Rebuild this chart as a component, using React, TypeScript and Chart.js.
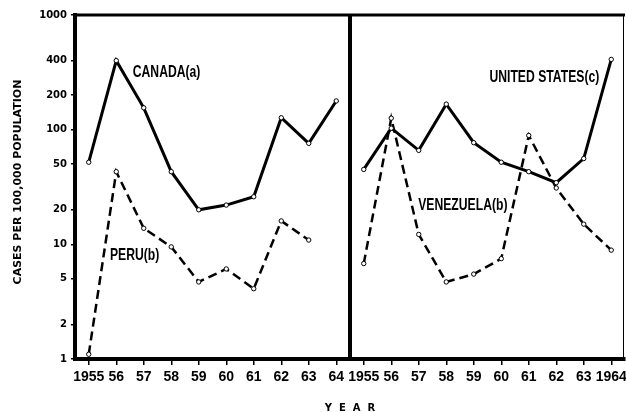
import React, { useEffect, useRef } from "react";
import { Chart, registerables } from "chart.js";

Chart.register(...registerables);

// ---- data ----
const leftYears = ["1955", "56", "57", "58", "59", "60", "61", "62", "63", "64"];
const rightYears = ["1955", "56", "57", "58", "59", "60", "61", "62", "63", "1964"];
const yTickValues = [1, 2, 5, 10, 20, 50, 100, 200, 400, 1000];

const canada = [52, 400, 155, 43, 20, 22, 26, 127, 76, 178];
const peru = [1.1, 43, 13.8, 9.5, 4.7, 6.1, 4.1, 16, 10.9, null];
const unitedStates = [45, 103, 66, 167, 77, 52, 43, 34.5, 56, 410];
const venezuela = [6.8, 126, 12.2, 4.7, 5.5, 7.5, 89, 31, 15, 8.9];

const seriesNames = ["CANADA(a)", "PERU(b)", "UNITED STATES(c)", "VENEZUELA(b)"];
const yTitle = "CASES PER 100,000 POPULATION";
const xTitle = "Y  E  A  R";

const SANS = '"Liberation Sans", Arial, sans-serif';
const WIDE = '"DejaVu Sans", "Liberation Sans", sans-serif';

// label anchors (category index, y value)
const labelAnchors = [
  { at: 1.6, value: 315 },
  { at: 0.77, value: 8.0 },
  { at: 14.57, value: 285 },
  { at: 11.98, value: 22 },
];

const empty = leftYears.map(() => null);

const frame = {
  id: "frame",
  afterDatasetsDraw(chart: any) {
    const { ctx, chartArea: a, scales } = chart;
    const x = scales.x;
    const y = scales.y;
    ctx.save();
    ctx.strokeStyle = "#000";
    // top border
    ctx.lineWidth = 3;
    ctx.beginPath();
    ctx.moveTo(a.left - 2, a.top);
    ctx.lineTo(a.right, a.top);
    ctx.stroke();
    // right border
    ctx.lineWidth = 1;
    ctx.beginPath();
    ctx.moveTo(a.right - 1.5, a.top);
    ctx.lineTo(a.right - 1.5, a.bottom);
    ctx.stroke();
    // divider between panels
    const xm = (x.getPixelForValue(9) + x.getPixelForValue(10)) / 2;
    ctx.lineWidth = 4;
    ctx.beginPath();
    ctx.moveTo(xm, a.top - 1);
    ctx.lineTo(xm, a.bottom + 2);
    ctx.stroke();
    // series labels (condensed bold)
    ctx.fillStyle = "#000";
    ctx.font = `bold 14.5px ${SANS}`;
    ctx.textBaseline = "middle";
    ctx.textAlign = "left";
    labelAnchors.forEach((l, i) => {
      ctx.save();
      ctx.translate(x.getPixelForValue(l.at), y.getPixelForValue(l.value));
      ctx.scale(0.84, 1.12);
      ctx.fillText(seriesNames[i], 0, 0);
      ctx.restore();
    });
    // y title
    ctx.save();
    ctx.translate(18, 182);
    ctx.rotate(-Math.PI / 2);
    ctx.font = `bold 11px ${WIDE}`;
    ctx.textAlign = "center";
    ctx.textBaseline = "middle";
    ctx.fillText(yTitle, 0, 0);
    ctx.restore();
    // x title
    ctx.font = `bold 10px ${WIDE}`;
    ctx.textAlign = "center";
    ctx.textBaseline = "middle";
    ctx.fillText(xTitle, xm, 408);
    ctx.restore();
  },
};

export default function App() {
  const ref = useRef<HTMLCanvasElement>(null);

  useEffect(() => {
    const labels = [...leftYears, ...rightYears];
    const solid = {
      borderColor: "#000",
      borderWidth: 3,
      pointRadius: 2.2,
      pointBackgroundColor: "#fff",
      pointBorderColor: "#000",
      pointBorderWidth: 1,
      tension: 0,
      spanGaps: false,
    };
    const dashed = { ...solid, borderWidth: 2.5, borderDash: [9, 5] };
    const chart = new Chart(ref.current!, {
      type: "line",
      data: {
        labels,
        datasets: [
          { label: seriesNames[0], data: [...canada, ...empty], ...solid },
          { label: seriesNames[1], data: [...peru, ...empty], ...dashed },
          { label: seriesNames[2], data: [...empty, ...unitedStates], ...solid },
          { label: seriesNames[3], data: [...empty, ...venezuela], ...dashed },
        ] as any,
      },
      options: {
        animation: false,
        responsive: false,
        devicePixelRatio: 1,
        layout: { autoPadding: false, padding: { top: 15, right: 1, left: 0, bottom: 0 } },
        plugins: { legend: { display: false }, tooltip: { enabled: false } },
        scales: {
          x: {
            type: "category",
            offset: true,
            afterFit: (s: any) => {
              s.height = 53;
              s.paddingLeft = 0;
              s.paddingRight = 0;
            },
            border: { display: true, color: "#000", width: 4 },
            grid: {
              display: true,
              drawOnChartArea: false,
              drawTicks: true,
              tickLength: 6,
              color: "#000",
              lineWidth: 1.5,
              offset: false,
            },
            ticks: {
              autoSkip: false,
              maxRotation: 0,
              minRotation: 0,
              padding: 4,
              color: "#000",
              font: { family: SANS, size: 14, weight: "bold" },
            },
          },
          y: {
            type: "logarithmic",
            min: 1,
            max: 1000,
            afterFit: (s: any) => {
              s.width = 75;
              s.paddingTop = 0;
              s.paddingBottom = 0;
            },
            afterBuildTicks: (s: any) => {
              s.ticks = yTickValues.map((v) => ({ value: v }));
            },
            border: { display: true, color: "#000", width: 4 },
            grid: {
              display: true,
              drawOnChartArea: false,
              drawTicks: true,
              tickLength: 4,
              color: "#000",
              lineWidth: 1.5,
            },
            ticks: {
              padding: 4,
              color: "#000",
              font: { family: WIDE, size: 10, weight: "bold" },
              callback: (v: any) => String(v),
            },
          },
        },
      },
      plugins: [frame],
    });
    return () => chart.destroy();
  }, []);

  return (
    <div style={{ position: "absolute", left: 0, top: 0, width: 626, height: 412, background: "#fff" }}>
      <canvas ref={ref} width={626} height={412} style={{ display: "block", width: 626, height: 412 }} />
    </div>
  );
}
